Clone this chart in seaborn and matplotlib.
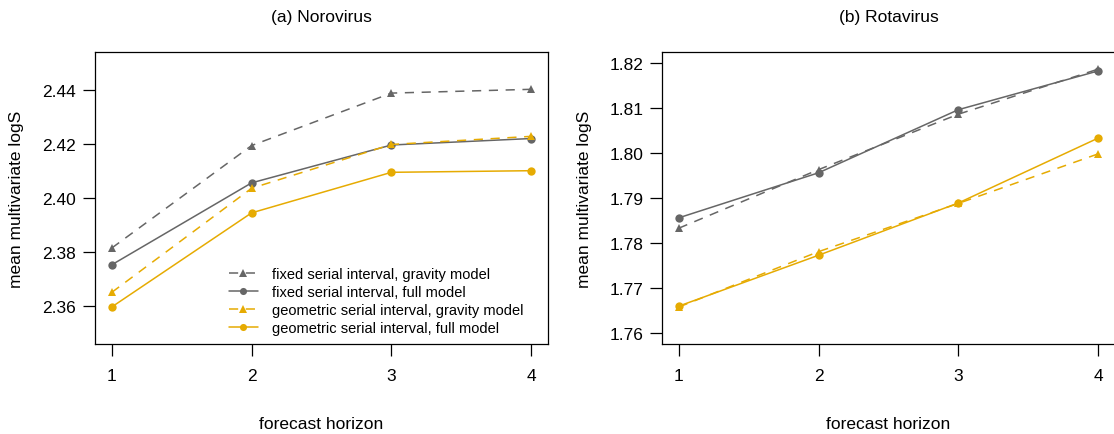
import numpy as np
import pandas as pd
import matplotlib
matplotlib.use("Agg")
import matplotlib.pyplot as plt
import seaborn as sns

# ---- data ----
horizon = [1, 2, 3, 4]
series_names = [
    "fixed serial interval, gravity model",
    "fixed serial interval, full model",
    "geometric serial interval, gravity model",
    "geometric serial interval, full model",
]
noro_fixed_gravity = [2.3815, 2.4194, 2.4388, 2.4402]
noro_fixed_full = [2.3753, 2.4056, 2.4196, 2.4220]
noro_geom_gravity = [2.3651, 2.4036, 2.4198, 2.4228]
noro_geom_full = [2.3597, 2.3945, 2.4095, 2.4101]

rota_fixed_gravity = [1.7833, 1.7963, 1.8086, 1.8186]
rota_fixed_full = [1.7856, 1.7956, 1.8096, 1.8182]
rota_geom_gravity = [1.7658, 1.7781, 1.7888, 1.7998]
rota_geom_full = [1.7660, 1.7773, 1.7889, 1.8033]

panel_titles = ["(a) Norovirus", "(b) Rotavirus"]
noro_yticks = [2.36, 2.38, 2.40, 2.42, 2.44]
rota_yticks = [1.76, 1.77, 1.78, 1.79, 1.80, 1.81, 1.82]
noro_ylim = (2.35, 2.45)
rota_ylim = (1.76, 1.82)

GREY = "#666666"
GOLD = "#E6AB02"

def long_df(vals):
    rows = []
    for name, v in zip(series_names, vals):
        for h, y in zip(horizon, v):
            rows.append({"horizon": h, "value": y, "series": name})
    return pd.DataFrame(rows)

noro = long_df([noro_fixed_gravity, noro_fixed_full, noro_geom_gravity, noro_geom_full])
rota = long_df([rota_fixed_gravity, rota_fixed_full, rota_geom_gravity, rota_geom_full])

sns.set_style("white")
plt.rcParams["font.family"] = ["Liberation Sans", "DejaVu Sans"]
plt.rcParams["axes.edgecolor"] = "black"
plt.rcParams["axes.linewidth"] = 0.9
plt.rcParams["text.color"] = "black"
plt.rcParams["axes.labelcolor"] = "black"
plt.rcParams["xtick.color"] = "black"
plt.rcParams["ytick.color"] = "black"

palette = {series_names[0]: GREY, series_names[1]: GREY,
           series_names[2]: GOLD, series_names[3]: GOLD}
markers = {series_names[0]: "^", series_names[1]: "o",
           series_names[2]: "^", series_names[3]: "o"}
dashes = {series_names[0]: (6, 5), series_names[1]: "",
          series_names[2]: (6, 5), series_names[3]: ""}

fig = plt.figure(figsize=(11.14, 4.35), dpi=100)
axL = fig.add_axes([95 / 1114, 1 - 345 / 435, 453 / 1114, 292 / 435])
axR = fig.add_axes([662 / 1114, 1 - 345 / 435, 453 / 1114, 292 / 435])

FS = 12.5
for ax, df, title, yt, yl, leg in [
    (axL, noro, panel_titles[0], noro_yticks, noro_ylim, True),
    (axR, rota, panel_titles[1], rota_yticks, rota_ylim, False),
]:
    sns.lineplot(data=df, x="horizon", y="value", hue="series", style="series",
                 palette=palette, markers=markers, dashes=dashes,
                 hue_order=series_names, style_order=series_names,
                 linewidth=1.1, markersize=6, markeredgewidth=0,
                 legend=leg, ax=ax)
    pad = 0.04 * (yl[1] - yl[0])
    ax.set_ylim(yl[0] - pad, yl[1] + pad)
    ax.set_xlim(1 - 0.12, 4 + 0.12)
    ax.set_xticks(horizon)
    ax.set_yticks(yt)
    ax.set_yticklabels([f"{v:.2f}" for v in yt])
    ax.tick_params(axis="both", which="major", direction="out", length=8.5,
                   width=0.9, color="black", labelcolor="black", labelsize=FS,
                   bottom=True, left=True, top=False, right=False)
    ax.tick_params(axis="x", pad=9)
    ax.tick_params(axis="y", pad=5)
    ax.set_xlabel("forecast horizon", fontsize=FS, color="black")
    ax.set_ylabel("mean multivariate logS", fontsize=FS, color="black")
    ax.xaxis.set_label_coords(0.5, -0.245)
    ax.set_title(title, fontsize=FS, pad=22, color="black")
    for s in ax.spines.values():
        s.set_visible(True)
        s.set_color("black")

axL.yaxis.set_label_coords(-0.157, 0.5)
axR.yaxis.set_label_coords(-0.155, 0.5)

sns.move_legend(axL, "upper left", bbox_to_anchor=(0.295, 0.265), frameon=False,
                title=None, fontsize=10.5, handlelength=2.0, handletextpad=1.0,
                labelspacing=0.28, borderpad=0, borderaxespad=0, markerscale=0.85,
                labelcolor="black")

fig.savefig("out.png", dpi=100)
